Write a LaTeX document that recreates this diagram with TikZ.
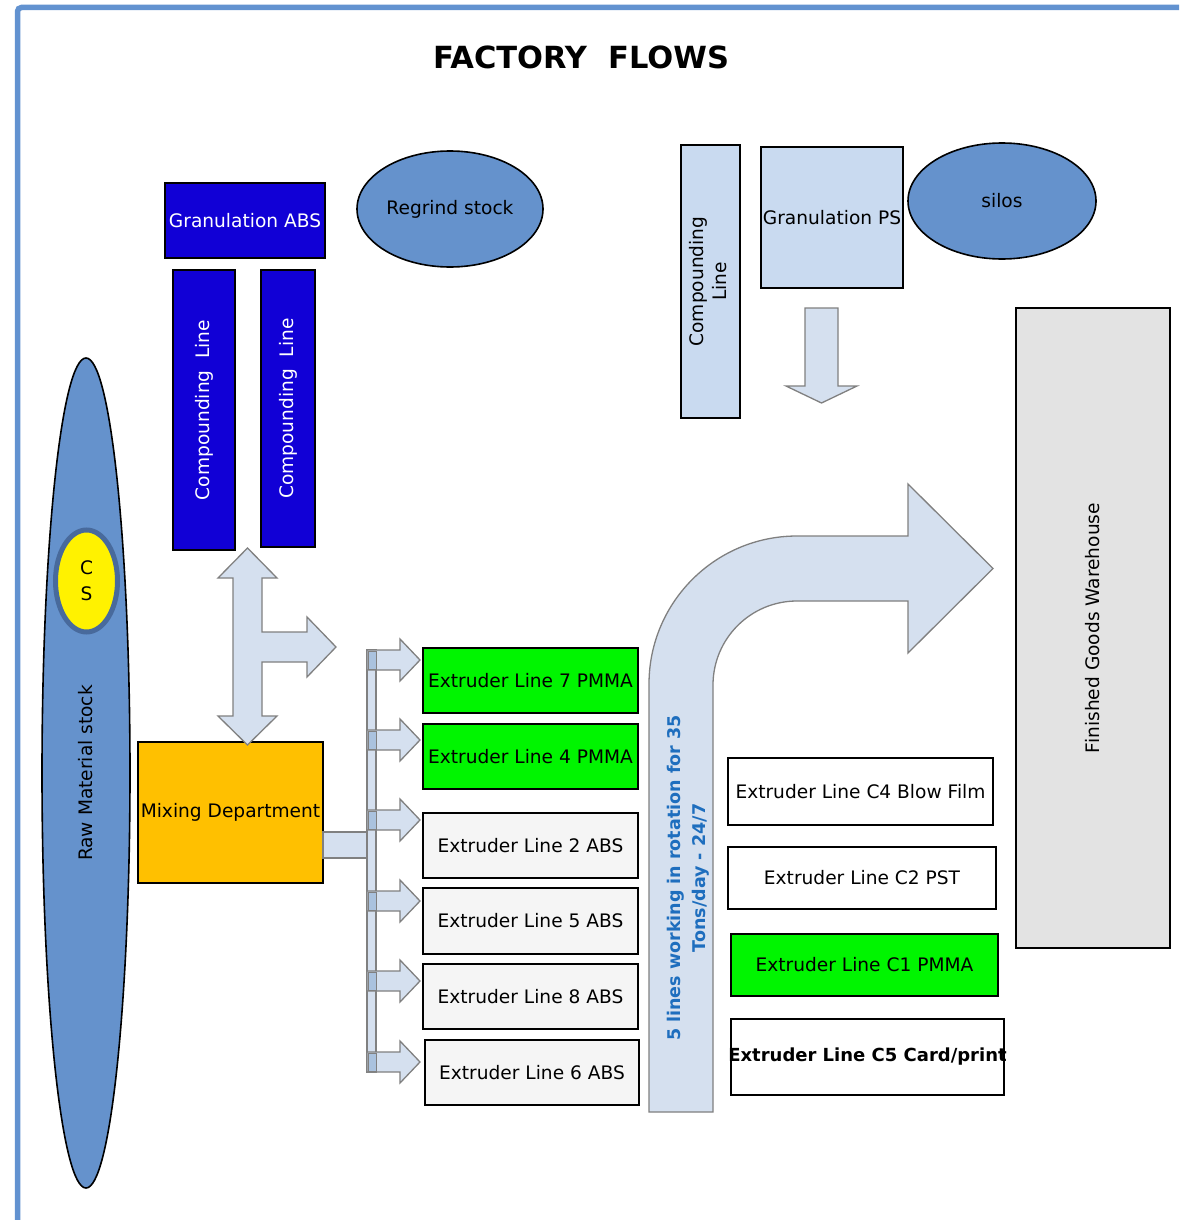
\documentclass[tikz,border=0pt]{standalone}
\usepackage{fontspec}
\setmainfont{DejaVu Sans}
\usetikzlibrary{shapes.geometric}
\definecolor{frameblue}{RGB}{98,146,208}
\definecolor{deepblue}{RGB}{17,0,214}
\definecolor{ovalblue}{RGB}{101,146,204}
\definecolor{paleblue}{RGB}{201,218,240}
\definecolor{arrowfill}{RGB}{213,224,239}
\definecolor{arrowgray}{RGB}{128,128,128}
\definecolor{overlap}{RGB}{170,194,222}
\definecolor{linegreen}{RGB}{0,245,0}
\definecolor{mixorange}{RGB}{255,192,0}
\definecolor{storegray}{RGB}{227,227,227}
\definecolor{absgray}{RGB}{245,245,245}
\definecolor{csring}{RGB}{72,106,156}
\definecolor{notetext}{RGB}{30,110,190}
\begin{document}
\begin{tikzpicture}[x=1pt,y=-1pt,
  base/.style={font=\fontsize{18.6}{22.5}\selectfont, inner sep=0pt, outer sep=0pt},
  box/.style={base, draw=black, line width=1.6pt, rectangle, align=center},
  oval/.style={base, draw=black, line width=1.6pt, ellipse, fill=ovalblue},
  flow/.style={draw=arrowgray, line width=1.3pt, fill=arrowfill, line join=miter},
  greenline/.style={box, fill=linegreen, minimum width=215pt, minimum height=65pt},
  absline/.style={box, fill=absgray, minimum width=215pt, minimum height=65pt},
]
\useasboundingbox (0,0) rectangle (1179,1220);
\fill[white] (0,0) rectangle (1179,1220);

% page frame
\draw[frameblue, line width=5.5pt, rounded corners=4pt] (17.5,1220) -- (17.5,7.5) -- (1179,7.5);

% title
\node[base, font=\fontsize{30.5}{36}\selectfont\bfseries] (title) at (581,57) {FACTORY\ \ FLOWS};

% ABS granulation and compounding
\node[box, fill=deepblue, text=white, minimum width=160pt, minimum height=75pt] (gabs) at (245,220.5) {Granulation ABS};
\node[box, fill=deepblue, text=white, minimum width=62pt, minimum height=280pt] (cl1) at (204,410) {\rotatebox{90}{Compounding\ \ Line}};
\node[box, fill=deepblue, text=white, minimum width=54pt, minimum height=277pt] (cl2) at (288,408.5) {\rotatebox{90}{Compounding\ \ Line}};
\node[oval, minimum width=186pt, minimum height=116pt] (regrind) at (450,209) {Regrind stock};

% PS granulation and compounding
\node[box, fill=paleblue, line width=1.4pt, minimum width=59pt, minimum height=273pt, font=\fontsize{18.6}{23}\selectfont] (clr) at (710.5,281.5)
  {\rotatebox{90}{\begin{tabular}{@{}c@{}}Compounding\\Line\end{tabular}}};
\node[box, fill=paleblue, line width=1.4pt, minimum width=142pt, minimum height=141pt] (gps) at (832,217.5) {\makebox[0pt]{Granulation PS}};
\node[oval, minimum width=188pt, minimum height=116pt] (silos) at (1002,201) {silos};

% warehouse
\node[box, fill=storegray, line width=1.4pt, minimum width=154pt, minimum height=640pt] (fgw) at (1093,628) {\rotatebox{90}{Finished Goods Warehouse}};

% raw material stock with CS
\node[oval, minimum width=88pt, minimum height=830pt] (raw) at (86,773) {\rotatebox{90}{Raw Material stock}};
\node[base, ellipse, draw=csring, line width=5pt, fill=yellow, minimum width=62pt, minimum height=102pt, align=center,
      font=\fontsize{18.6}{26}\selectfont] (cs) at (86.5,581) {C\\S};

% mixing department
\node[box, fill=mixorange, minimum width=185pt, minimum height=141pt] (mix) at (230.5,812.5) {Mixing Department};

% extruder lines fed from mixing
\node[greenline] (e7) at (530.5,680.5) {Extruder Line 7 PMMA};
\node[greenline] (e4) at (530.5,756.5) {Extruder Line 4 PMMA};
\node[absline] (e2) at (530.5,845.5) {Extruder Line 2 ABS};
\node[absline, minimum height=66pt] (e5) at (530.5,921) {Extruder Line 5 ABS};
\node[absline] (e8) at (530.5,996.5) {Extruder Line 8 ABS};
\node[absline, minimum width=214pt] (e6) at (532,1072.5) {Extruder Line 6 ABS};

% extruder lines in rotation
\node[box, fill=white, minimum width=265pt, minimum height=67pt] (c4) at (860.5,791.5) {Extruder Line C4 Blow Film};
\node[box, fill=white, minimum width=268pt, minimum height=62pt] (c2) at (862,878) {Extruder Line C2 PST};
\node[box, fill=linegreen, minimum width=267pt, minimum height=62pt] (c1) at (864.5,965) {Extruder Line C1 PMMA};
\node[box, fill=white, minimum width=273pt, minimum height=76pt, font=\fontsize{18}{22}\selectfont\bfseries] (c5) at (867.5,1057) {\makebox[0pt]{Extruder Line C5 Card/print}};

% arrow from PS granulation
\draw[flow] (805,308) -- (838,308) -- (838,386) -- (857,386) -- (821.5,403) -- (786,386) -- (805,386) -- cycle;

% three-way arrow between compounding, mixing and the lines
\draw[flow] (247.5,548) -- (277,578) -- (262,578) -- (262,632) -- (307,632) -- (307,617) -- (336,647)
  -- (307,677) -- (307,662) -- (262,662) -- (262,716) -- (277,716) -- (247.5,745) -- (218,716)
  -- (233,716) -- (233,578) -- (218,578) -- cycle;

% distribution bus from mixing to the extruder lines
\draw[flow] (mix.east |- 0,832) rectangle (367,858);
\draw[flow] (367,650) rectangle (376,1072);
\foreach \yc in {660,740,820,901,981,1062} {
  \draw[flow] (367,\yc-10) -- (400,\yc-10) -- (400,\yc-21) -- (420,\yc) -- (400,\yc+21) -- (400,\yc+10) -- (367,\yc+10) -- cycle;
  \draw[draw=arrowgray, line width=1pt, fill=overlap] (368,\yc-9) rectangle (376,\yc+9);
}

% bent arrow to the warehouse
\draw[flow] (649,1112) -- (649,684) .. controls (649,602.3) and (715.3,536) .. (797,536) -- (908,536)
  -- (908,484) -- (993,568.5) -- (908,653) -- (908,601) -- (797,601)
  .. controls (750.6,601) and (713,638.6) .. (713,685) -- (713,1112) -- cycle;
\node[base, rotate=90, align=center, text=notetext, font=\fontsize{17.5}{25}\selectfont\bfseries] (note) at (688,878)
  {5 lines working in rotation for 35\\Tons/day - 24/7};
\end{tikzpicture}
\end{document}
